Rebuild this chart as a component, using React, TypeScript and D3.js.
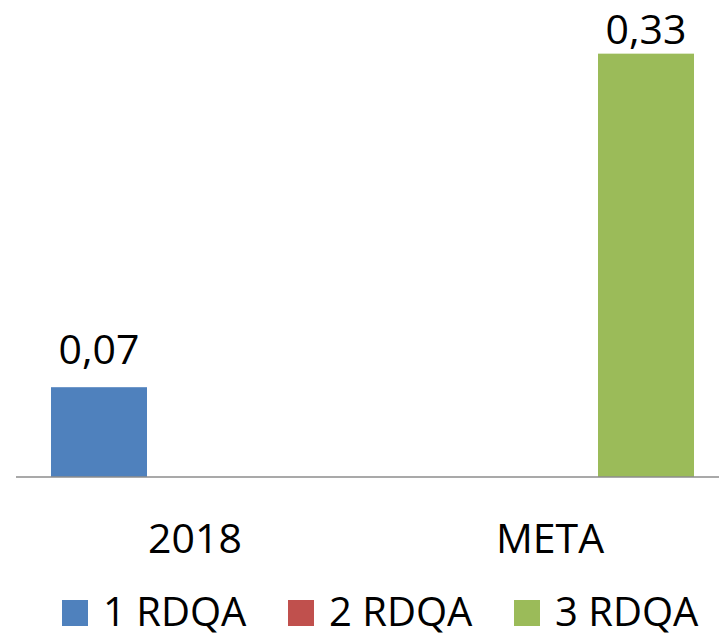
import * as d3 from "d3";
import React from "react";

const categories = ["2018", "META"];
const seriesNames = ["1 RDQA", "2 RDQA", "3 RDQA"];
const seriesColors = ["#4F81BD", "#C0504D", "#9BBB59"];
// values per series, one entry per category (null = no bar)
const rdqa1 = [0.07, null];
const rdqa2 = [null, null];
const rdqa3 = [null, 0.33];
const seriesValues = [rdqa1, rdqa2, rdqa3];

const W = 719;
const H = 637;
const baseY = 477;
const font = "'Open Sans', sans-serif";

const fmt = (v: number) => d3.format(".2f")(v).replace(".", ",");

const App: React.FC = () => {
    const x = d3.scaleBand<string>()
        .domain(categories)
        .range([17.5, 727.5])
        .paddingInner(0.1887)
        .paddingOuter(0.1887 / 2);

    const x1 = d3.scaleBand<string>()
        .domain(seriesNames)
        .range([0, x.bandwidth()]);

    const y = d3.scaleLinear().domain([0, 0.35]).range([baseY, 28]);

    const legendX = d3.scalePoint<string>()
        .domain(seriesNames)
        .range([62, 514]);

    return (
        <svg width={W} height={H} style={{ position: "absolute", left: 0, top: 0 }}>
            <rect width={W} height={H} fill="#fff" />
            {seriesValues.map((vals, si) =>
                vals.map((v, ci) => {
                    if (v == null) return null;
                    const bx = (x(categories[ci]) ?? 0) + (x1(seriesNames[si]) ?? 0);
                    const top = y(v);
                    return (
                        <g key={`${si}-${ci}`}>
                            <rect x={bx} y={top} width={x1.bandwidth()} height={baseY - top}
                                fill={seriesColors[si]} />
                            <text x={bx + x1.bandwidth() / 2} y={Math.max(top - 23, 44)}
                                textAnchor="middle" fontFamily={font} fontSize={41} fill="#000">
                                {fmt(v)}
                            </text>
                        </g>
                    );
                })
            )}
            <line x1={16} x2={W} y1={baseY} y2={baseY} stroke="#8c8c8c" strokeWidth={1.5} />
            {categories.map((c) => (
                <text key={c} x={(x(c) ?? 0) + x.bandwidth() / 2} y={553} textAnchor="middle"
                    fontFamily={font} fontSize={41} fill="#000">
                    {c}
                </text>
            ))}
            {seriesNames.map((s, i) => (
                <g key={s} transform={`translate(${legendX(s)},0)`}>
                    <rect x={0} y={600} width={26} height={26} fill={seriesColors[i]} />
                    <text x={41} y={626} fontFamily={font} fontSize={40} fill="#000">{s}</text>
                </g>
            ))}
        </svg>
    );
};

export default App;
